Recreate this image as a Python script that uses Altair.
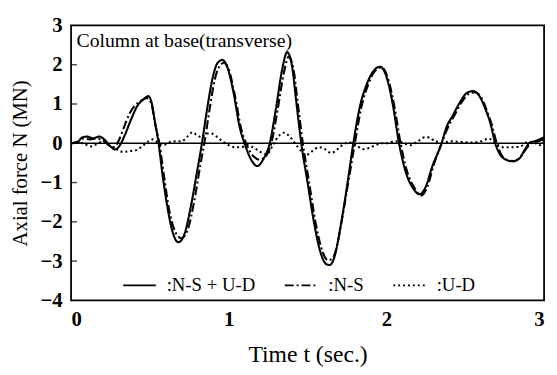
import altair as alt
import pandas as pd

# ---- data ----
t_total = [0.00, 0.04, 0.07, 0.10, 0.14, 0.18, 0.21, 0.25, 0.28, 0.31, 0.34, 0.38, 0.42, 0.46, 0.49, 0.51,
           0.53, 0.555, 0.58, 0.61, 0.64, 0.68, 0.72, 0.76, 0.80, 0.83, 0.86, 0.90, 0.93, 0.96, 0.99, 1.03,
           1.07, 1.10, 1.14, 1.18, 1.22, 1.26, 1.30, 1.34, 1.37, 1.40, 1.43, 1.46, 1.50, 1.54, 1.58, 1.62,
           1.64, 1.67, 1.71, 1.75, 1.79, 1.83, 1.88, 1.92, 1.96, 2.00, 2.04, 2.08, 2.12, 2.17, 2.21, 2.25,
           2.29, 2.35, 2.38, 2.42, 2.46, 2.51, 2.55, 2.59, 2.63, 2.66, 2.69, 2.72, 2.76, 2.80, 2.84, 2.88,
           2.91, 2.94, 2.97, 3.00]
n_total = [0.00, 0.02, 0.15, 0.17, 0.13, 0.17, 0.10, -0.08, -0.16, -0.05, 0.20, 0.60, 0.95, 1.12, 1.20, 1.05,
           0.60, 0.00, -0.80, -1.60, -2.20, -2.52, -2.30, -1.60, -0.70, 0.00, 0.80, 1.70, 2.05, 2.12, 1.95, 1.30,
           0.40, 0.00, -0.40, -0.58, -0.40, 0.00, 0.90, 1.90, 2.32, 2.00, 1.00, 0.00, -1.00, -2.00, -2.75, -3.08,
           -3.10, -2.90, -2.10, -1.10, 0.00, 0.90, 1.55, 1.85, 1.95, 1.70, 1.00, 0.00, -0.70, -1.15, -1.30, -1.10,
           -0.60, 0.00, 0.40, 0.70, 1.00, 1.28, 1.33, 1.20, 0.85, 0.50, 0.00, -0.28, -0.42, -0.46, -0.40, -0.15,
           0.02, 0.05, 0.10, 0.15]

t_ns = [0.00, 0.05, 0.08, 0.12, 0.16, 0.20, 0.24, 0.27, 0.30, 0.33, 0.37, 0.41, 0.45, 0.48, 0.51, 0.53,
        0.56, 0.59, 0.62, 0.66, 0.70, 0.74, 0.78, 0.82, 0.845, 0.88, 0.91, 0.94, 0.97, 1.00, 1.04, 1.08,
        1.11, 1.15, 1.20, 1.24, 1.27, 1.31, 1.35, 1.38, 1.41, 1.44, 1.47, 1.51, 1.55, 1.59, 1.63, 1.66,
        1.69, 1.72, 1.76, 1.80, 1.84, 1.89, 1.93, 1.97, 2.01, 2.05, 2.09, 2.13, 2.18, 2.22, 2.26, 2.30,
        2.35, 2.39, 2.43, 2.47, 2.52, 2.56, 2.60, 2.64, 2.67, 2.70, 2.73, 2.77, 2.81, 2.85, 2.89, 2.92,
        2.96, 3.00]
n_ns = [0.00, 0.05, 0.12, 0.10, 0.12, 0.08, -0.05, -0.10, 0.05, 0.35, 0.75, 0.98, 1.10, 1.15, 1.00, 0.55,
        0.00, -0.85, -1.65, -2.25, -2.42, -2.20, -1.50, -0.55, 0.00, 0.90, 1.60, 1.95, 2.05, 1.88, 1.20, 0.35,
        0.00, -0.30, -0.42, -0.30, 0.00, 0.85, 1.80, 2.20, 1.90, 0.95, 0.00, -1.00, -2.00, -2.70, -2.98, -2.92,
        -2.55, -1.90, -0.95, 0.00, 0.90, 1.55, 1.85, 1.93, 1.65, 0.95, 0.00, -0.70, -1.15, -1.33, -1.10, -0.55,
        0.00, 0.40, 0.70, 1.00, 1.25, 1.30, 1.18, 0.80, 0.45, 0.00, -0.30, -0.43, -0.45, -0.35, -0.12, 0.00,
        0.05, 0.10]

t_ud = [0.00, 0.05, 0.09, 0.13, 0.17, 0.21, 0.25, 0.29, 0.33, 0.37, 0.41, 0.45, 0.49, 0.52, 0.55, 0.58,
        0.62, 0.66, 0.70, 0.74, 0.77, 0.80, 0.83, 0.86, 0.89, 0.92, 0.96, 1.00, 1.04, 1.08, 1.12, 1.16,
        1.20, 1.24, 1.28, 1.31, 1.35, 1.38, 1.42, 1.46, 1.49, 1.53, 1.57, 1.61, 1.65, 1.69, 1.73, 1.77,
        1.81, 1.85, 1.89, 1.93, 1.97, 2.01, 2.05, 2.10, 2.15, 2.20, 2.24, 2.27, 2.31, 2.36, 2.42, 2.48,
        2.54, 2.60, 2.65, 2.69, 2.74, 2.80, 2.85, 2.89, 2.93, 2.97, 3.00]
n_ud = [0.00, 0.02, -0.03, -0.08, 0.00, 0.05, -0.08, -0.15, -0.22, -0.20, -0.18, -0.08, 0.05, 0.10, 0.02, -0.05,
        0.02, 0.05, 0.05, 0.18, 0.28, 0.20, 0.15, 0.25, 0.25, 0.18, 0.05, -0.05, -0.10, -0.10, -0.05, -0.12,
        -0.22, -0.28, -0.05, 0.15, 0.27, 0.20, 0.00, -0.20, -0.30, -0.20, -0.10, -0.15, -0.25, -0.15, -0.02, 0.02,
        -0.05, -0.15, -0.12, -0.05, 0.00, 0.00, 0.05, 0.02, -0.05, 0.05, 0.15, 0.15, 0.05, 0.03, 0.05, 0.03,
        0.02, 0.05, 0.12, 0.00, -0.10, -0.10, -0.08, 0.02, 0.03, -0.05, 0.05]

series_names = ["N-S + U-D", "N-S", "U-D"]
dash_styles = [[1, 0], [9, 3, 2, 3], [2, 3]]
x_ticks = [0, 1, 2, 3]
y_ticks = [-4, -3, -2, -1, 0, 1, 2, 3]
annotation = "Column at base(transverse)"

FONT = "Liberation Serif"

rows = []
for name, ts, ns, order in [(series_names[2], t_ud, n_ud, 0),
                            (series_names[1], t_ns, n_ns, 1),
                            (series_names[0], t_total, n_total, 2)]:
    for t, n in zip(ts, ns):
        rows.append({"t": t, "N": n, "series": name, "ord": order})
df = pd.DataFrame(rows)

x_scale = alt.Scale(domain=[0, 3], nice=False)
y_scale = alt.Scale(domain=[-4, 3], nice=False)

x_axis = alt.Axis(values=x_ticks, title="Time t (sec.)", format="d", grid=False, domain=False,
                  ticks=False, labelPadding=8, titlePadding=14, labelOverlap=False, titleFontSize=24)
y_axis = alt.Axis(values=y_ticks, title="Axial force N (MN)", format="d", grid=False, domain=False,
                  ticks=False, labelPadding=9, titleX=-41, labelOverlap=False, titleFontSize=21)

def X(field):
    return alt.X(field, scale=x_scale, axis=x_axis, title="Time t (sec.)")

def Y(field):
    return alt.Y(field, scale=y_scale, axis=y_axis, title="Axial force N (MN)")

lines = alt.Chart(df).mark_line(interpolate="monotone", color="black", strokeWidth=2.1).encode(
    x=X("t:Q"),
    y=Y("N:Q"),
    strokeDash=alt.StrokeDash(
        "series:N",
        scale=alt.Scale(domain=series_names, range=dash_styles),
        legend=alt.Legend(title=None, orient="none", direction="horizontal", columns=3,
                          legendX=52, legendY=246, symbolType="stroke", symbolSize=1100,
                          symbolStrokeWidth=1.8, symbolStrokeColor="black",
                          labelFont=FONT, labelFontSize=19, labelColor="black",
                          labelExpr="':' + datum.label",
                          columnPadding=26, labelOffset=10),
    ),
    detail="series:N",
    order="ord:Q",
)

zero = alt.Chart(pd.DataFrame({"y": [0]})).mark_rule(color="black", strokeWidth=1.5).encode(
    y=Y("y:Q")
)

yt = alt.Chart(pd.DataFrame({"y": y_ticks[1:-1]})).mark_tick(
    color="black", size=6, thickness=1.5, orient="horizontal"
).encode(y=Y("y:Q"), x=alt.value(3))

label = alt.Chart(pd.DataFrame({"t": [0.035], "N": [2.6], "txt": [annotation]})).mark_text(
    align="left", baseline="middle", font=FONT, fontSize=20, color="black"
).encode(x=X("t:Q"), y=Y("N:Q"), text="txt:N")

chart = alt.layer(zero, yt, lines, label).properties(
    width=480, height=279,
    autosize=alt.AutoSizeParams(type="none"),
    padding={"left": 64, "top": 15, "right": 5, "bottom": 72},
    background="white",
).configure_view(
    stroke="black", strokeWidth=1.8
).configure_axis(
    labelFont=FONT, labelFontSize=21, labelFontWeight="bold", labelColor="black",
    titleFont=FONT, titleFontWeight="normal", titleColor="black",
)

chart.save("out.html", embed_options={"renderer": "svg", "actions": False})
